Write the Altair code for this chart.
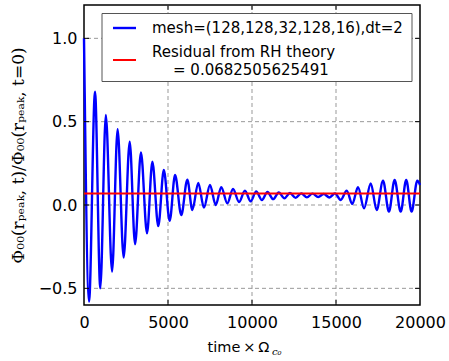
import altair as alt
import pandas as pd

# Extrema of the oscillation (time, value)
times = [0, 300, 655, 970, 1300, 1670, 2000, 2360, 2720, 3040,
         3390, 3750, 4070, 4420, 4750, 5100, 5420, 5790, 6150, 6450,
         6800, 7140, 7500, 7840, 8170, 8530, 8870, 9230, 9580, 9920,
         10250, 10590, 10920, 11260, 11590, 11930, 12260, 12600, 12930, 13270,
         13600, 13940, 14270, 14610, 14940, 15280, 15640, 15970, 16310, 16670,
         17070, 17420, 17800, 18150, 18490, 18850, 19180, 19500, 19840, 20000]
values = [1.0, -0.58, 0.68, -0.50, 0.54, -0.40, 0.455, -0.315, 0.38, -0.235,
          0.315, -0.17, 0.26, -0.127, 0.21, -0.095, 0.18, -0.06, 0.152, -0.03,
          0.133, -0.016, 0.12, 0.0, 0.107, 0.01, 0.096, 0.018, 0.086, 0.022,
          0.082, 0.03, 0.078, 0.035, 0.075, 0.04, 0.072, 0.043, 0.07, 0.046,
          0.068, 0.048, 0.066, 0.045, 0.07, 0.03, 0.086, 0.006, 0.107, -0.02,
          0.13, -0.03, 0.146, -0.04, 0.15, -0.04, 0.15, -0.04, 0.146, 0.12]
residual = [0.0682505625491]
x_ticks = [0, 5000, 10000, 15000, 20000]
x_grid = [5000, 10000, 15000]
y_ticks = [-0.5, 0.0, 0.5, 1.0]
legend_labels = ["mesh=(128,128,32,128,16),dt=2", "Residual from RH theory", "= 0.0682505625491"]

W, H = 336, 300
xs = alt.Scale(domain=[0, 20000], nice=False, zero=False)
ys = alt.Scale(domain=[-0.6, 1.2], nice=False, zero=False)
one = pd.DataFrame({"k": [0]})

x_axis = alt.Axis(values=x_ticks, format="d", labelFontSize=16, labelFont="DejaVu Sans",
                  labelColor="black", ticks=False, domain=False, grid=False, labelPadding=9,
                  labelFlush=False, labelOverlap=False,
                  title="time\u2009×\u2009Ω", titleFont="DejaVu Sans", titleFontSize=14.5,
                  titleFontWeight="normal", titleColor="black", titleX=154, titleY=42,
                  titleAlign="center", titleBaseline="middle")
y_axis = alt.Axis(values=y_ticks, format=".1f", labelFontSize=16, labelFont="DejaVu Sans",
                  labelColor="black", ticks=False, domain=False, grid=False, labelPadding=7,
                  labelFlush=False, labelOverlap=False,
                  title="Φ₀₀(rₚₑₐₖ, t)/Φ₀₀(rₚₑₐₖ, t=0)", titleFont="DejaVu Serif",
                  titleFontSize=17, titleFontWeight="normal", titleColor="black",
                  titleX=-66, titleY=150, titleAngle=270, titleAlign="center",
                  titleBaseline="middle")

def X(f):
    return alt.X(f, scale=xs, axis=x_axis)

def Y(f):
    return alt.Y(f, scale=ys, axis=y_axis)

grid_v = alt.Chart(pd.DataFrame({"t": x_grid})).mark_rule(
    color="#999999", strokeDash=[4, 3], strokeWidth=1).encode(x=X("t:Q"))
grid_h = alt.Chart(pd.DataFrame({"v": y_ticks})).mark_rule(
    color="#999999", strokeDash=[4, 3], strokeWidth=1).encode(y=Y("v:Q"))

blue = alt.Chart(pd.DataFrame({"t": times, "v": values})).mark_line(
    color="#0000ff", strokeWidth=2.4, interpolate="monotone", clip=False).encode(
    x=X("t:Q"), y=Y("v:Q"))

red = alt.Chart(pd.DataFrame({"r": residual})).mark_rule(color="#ff0000", strokeWidth=2).encode(
    y=Y("r:Q"))

tick_b = alt.Chart(pd.DataFrame({"t": x_grid})).mark_rule(color="black", strokeWidth=1).encode(
    x=X("t:Q"), y=alt.value(H), y2=alt.value(H - 5))
tick_t = alt.Chart(pd.DataFrame({"t": x_grid})).mark_rule(color="black", strokeWidth=1).encode(
    x=X("t:Q"), y=alt.value(0), y2=alt.value(5))
tick_l = alt.Chart(pd.DataFrame({"v": y_ticks})).mark_rule(color="black", strokeWidth=1).encode(
    y=Y("v:Q"), x=alt.value(0), x2=alt.value(5))
tick_r = alt.Chart(pd.DataFrame({"v": y_ticks})).mark_rule(color="black", strokeWidth=1).encode(
    y=Y("v:Q"), x=alt.value(W - 5), x2=alt.value(W))

leg_box = alt.Chart(one).mark_rect(fill="white", stroke="#555555", strokeWidth=1).encode(
    x=alt.value(18), x2=alt.value(328), y=alt.value(8.5), y2=alt.value(76.5))
leg_blue = alt.Chart(one).mark_rule(color="#0000ff", strokeWidth=2.4).encode(
    x=alt.value(29), x2=alt.value(52), y=alt.value(23))
leg_red = alt.Chart(one).mark_rule(color="#ff0000", strokeWidth=2).encode(
    x=alt.value(29), x2=alt.value(52), y=alt.value(55))
txt_style = dict(align="left", baseline="middle", font="DejaVu Sans", fontSize=15, color="black")
leg_t1 = alt.Chart(one).mark_text(**txt_style).encode(
    x=alt.value(68), y=alt.value(22.5), text=alt.value(legend_labels[0]))
leg_t2 = alt.Chart(one).mark_text(**txt_style).encode(
    x=alt.value(68), y=alt.value(46.5), text=alt.value(legend_labels[1]))
leg_t3 = alt.Chart(one).mark_text(**txt_style).encode(
    x=alt.value(89), y=alt.value(65), text=alt.value(legend_labels[2]))

sub = alt.Chart(one).mark_text(align="left", baseline="middle", font="DejaVu Serif",
                               fontSize=10, fontStyle="italic", color="black").encode(
    x=alt.value(188), y=alt.value(347), text=alt.value("c₀"))

chart = alt.layer(
    grid_v, grid_h, blue, red, tick_b, tick_t, tick_l, tick_r,
    leg_box, leg_blue, leg_red, leg_t1, leg_t2, leg_t3, sub
).properties(
    width=W, height=H,
    padding={"left": 84, "top": 5, "right": 29, "bottom": 56},
    autosize=alt.AutoSizeParams(type="none"),
    background="white"
).configure_view(stroke="black", strokeWidth=1.5)

chart.save("out.html", embed_options={"renderer": "svg", "actions": False})
